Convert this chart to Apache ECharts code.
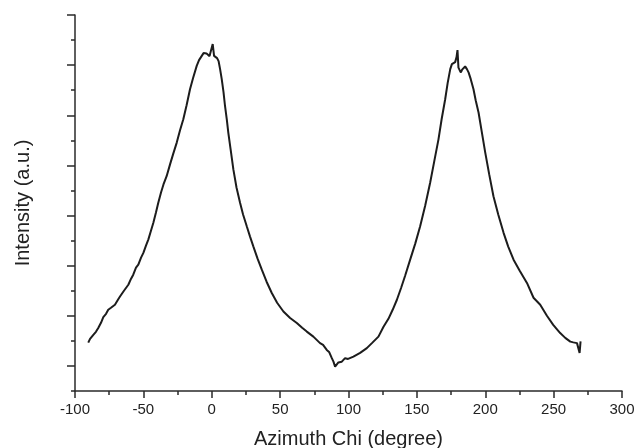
<!DOCTYPE html>
<html>
<head>
<meta charset="utf-8">
<script src="https://cdn.jsdelivr.net/npm/echarts@6/dist/echarts.min.js"></script>
<style>
html,body{margin:0;padding:0;background:#fff;}
#chart{width:636px;height:448px;}
</style>
</head>
<body>
<div id="chart"></div>
<script>
// Azimuth angle (degree)
var chi = [-90.3,-89.0,-87.9,-86.6,-84.7,-83.0,-81.0,-79.3,-77.3,-75.7,-73.7,-70.8,-68.6,-67.1,-64.2,-61.0,-59.0,-57.4,-55.4,-53.7,-51.7,-50.0,-48.1,-46.4,-44.4,-42.7,-40.8,-39.1,-37.1,-35.3,-33.0,-30.5,-28.3,-25.6,-23.2,-20.8,-18.4,-15.9,-13.7,-11.0,-9.3,-7.3,-6.0,-4.9,-3.8,-2.5,-1.6,-0.5,0.7,1.7,2.8,3.9,5.0,6.1,7.3,8.6,9.7,11.0,12.1,13.8,15.8,18.1,20.7,22.9,25.6,28.0,30.4,33.5,36.6,40.1,43.9,47.8,52.4,57.3,62.2,66.1,69.5,74.3,79.2,81.4,84.1,85.8,87.8,89.0,90.2,91.5,92.6,93.9,95.1,97.5,99.7,103.6,108.5,113.4,117.3,121.9,125.6,129.2,132.3,135.4,138.5,141.4,145.1,148.8,152.4,156.1,159.7,162.7,165.8,168.1,170.7,172.5,174.4,175.6,176.8,178.0,179.0,179.7,180.4,181.3,182.2,183.1,184.1,185.3,186.6,187.8,189.4,191.4,193.0,195.1,197.4,200.0,202.9,206.0,209.5,213.4,216.8,220.7,225.2,230.5,235.3,240.2,245.1,249.7,254.8,258.5,262.2,264.4,267.1,268.2,269.0,269.7];
// Intensity (a.u.)
var intensity = [1.93,2.08,2.04,2.24,2.36,2.51,2.72,2.95,3.08,3.24,3.32,3.44,3.64,3.77,4.00,4.24,4.48,4.64,4.92,5.04,5.32,5.51,5.80,6.04,6.40,6.71,7.12,7.51,7.92,8.24,8.57,9.04,9.44,9.91,10.40,10.84,11.40,12.04,12.48,12.97,13.20,13.37,13.48,13.53,13.46,13.48,13.36,13.37,13.84,13.37,13.34,13.28,13.16,12.84,12.44,11.92,11.37,10.84,10.31,9.64,8.84,8.12,7.51,7.04,6.57,6.16,5.77,5.28,4.84,4.36,3.91,3.52,3.17,2.91,2.71,2.52,2.37,2.17,1.91,1.84,1.64,1.56,1.31,1.17,0.97,1.04,1.14,1.10,1.17,1.31,1.28,1.37,1.52,1.71,1.92,2.17,2.56,2.88,3.24,3.64,4.12,4.60,5.24,5.88,6.57,7.40,8.31,9.16,10.04,10.84,11.64,12.28,12.84,13.04,13.06,13.12,13.32,13.60,12.90,12.80,12.71,12.82,12.84,12.95,12.84,12.71,12.44,12.04,11.60,11.11,10.36,9.51,8.64,7.77,7.04,6.31,5.76,5.24,4.80,4.31,3.72,3.44,3.00,2.64,2.31,2.12,1.97,1.94,1.91,1.98,1.52,1.98];
var xTicks = [-100, 300, 50];          // min, max, step
var yMajorTicks = [1,3,5,7,9,11,13,15];

var data = chi.map(function(c, i){ return [c, intensity[i]]; });
var axisColor = '#2a2a2a';
var textColor = '#222';
var font = 'Liberation Sans, Arial, sans-serif';

var chart = echarts.init(document.getElementById('chart'), null, {renderer: 'canvas'});
chart.setOption({
  animation: false,
  backgroundColor: '#fff',
  grid: {left: 75, right: 14, top: 15, bottom: 57, containLabel: false, outerBoundsMode: 'none'},
  xAxis: {
    type: 'value', min: xTicks[0], max: xTicks[1], interval: xTicks[2],
    name: 'Azimuth Chi (degree)', nameLocation: 'middle', nameGap: 38,
    nameTextStyle: {fontSize: 20, color: textColor, fontFamily: font},
    axisLine: {show: true, onZero: false, lineStyle: {color: axisColor, width: 1.5}},
    axisTick: {show: true, length: 7, lineStyle: {color: axisColor, width: 1.5}},
    minorTick: {show: true, splitNumber: 2, length: 4, lineStyle: {color: axisColor, width: 1.5}},
    axisLabel: {fontSize: 15, color: textColor, fontFamily: font, margin: 11},
    splitLine: {show: false}, minorSplitLine: {show: false}
  },
  yAxis: [{
    type: 'value', min: 0, max: 15, interval: 1,
    name: 'Intensity (a.u.)', nameLocation: 'middle', nameGap: 42,
    nameTextStyle: {fontSize: 20, color: textColor, fontFamily: font},
    axisLine: {show: true, onZero: false, lineStyle: {color: axisColor, width: 1.5}},
    axisTick: {show: true, length: 4, lineStyle: {color: axisColor, width: 1.5}},
    axisLabel: {show: false},
    splitLine: {show: false}
  }, {
    type: 'value', min: 0, max: 15, position: 'left',
    axisLine: {show: false, onZero: false},
    axisTick: {show: true, length: 8, customValues: yMajorTicks, lineStyle: {color: axisColor, width: 1.5}},
    axisLabel: {show: false},
    splitLine: {show: false}
  }],
  series: [{
    type: 'line', data: data, yAxisIndex: 0,
    showSymbol: false, symbol: 'none', smooth: false,
    lineStyle: {color: '#1c1c1c', width: 2},
    silent: true
  }]
});
</script>
</body>
</html>
